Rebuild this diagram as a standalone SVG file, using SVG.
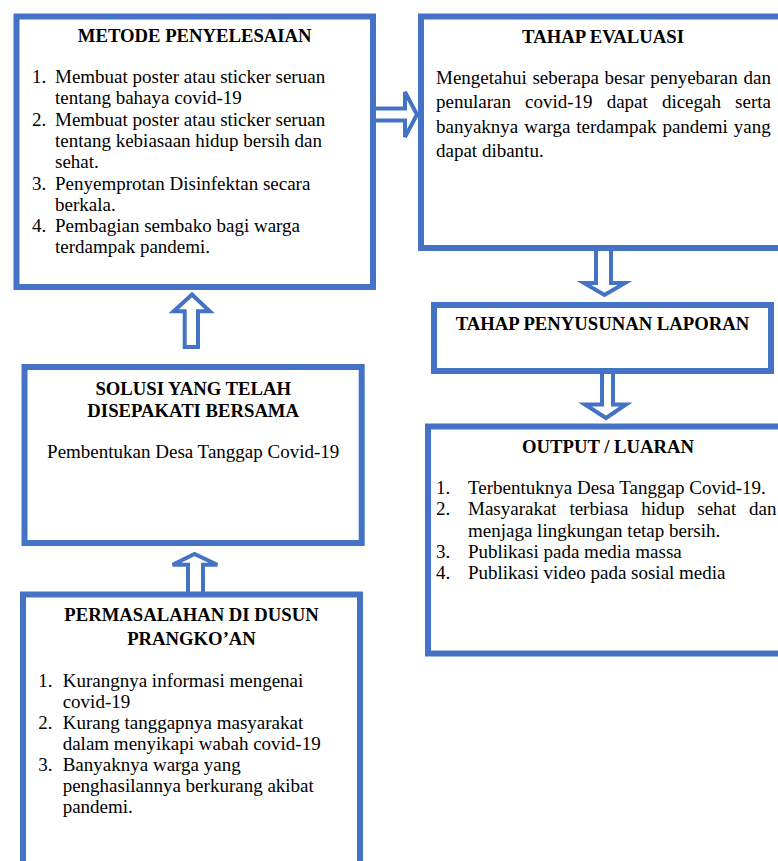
<svg xmlns="http://www.w3.org/2000/svg" width="778" height="861" viewBox="0 0 778 861">
<style>
.box{fill:#fff;stroke:#4472C4;stroke-width:6}
.arr{fill:#fff;stroke:#4472C4;stroke-width:4;stroke-linejoin:miter}
text{font-family:"Liberation Serif","Times New Roman",serif;font-size:19px;fill:#000}
.t{font-weight:bold;text-anchor:middle;font-size:18.7px}
.c{text-anchor:middle}
</style>
<rect width="778" height="861" fill="#fff"/>
<g id="connectors">
<path class="arr" d="M372,108.5 L405,108.5 L405,92 L417,114.5 L405,137 L405,120.5 L372,120.5 Z"/>
<path class="arr" d="M596,249 L596,283 L584,283 L604.5,295 L625,283 L611,283 L611,249 Z"/>
<path class="arr" d="M602,372 L602,404.5 L585,404.5 L606,418 L626,404.5 L613,404.5 L613,372 Z"/>
<path class="arr" d="M184.7,347 L184.7,311.3 L173.7,311.3 L192,294.5 L209.7,311.3 L198,311.3 L198,347 Z"/>
<path class="arr" d="M188,596 L188,564.7 L172.7,564.7 L194.5,554 L217.3,564.7 L203,564.7 L203,596 Z"/>
</g>
<g id="metode">
<rect class="box" x="16.5" y="16.5" width="356.5" height="270.5"/>
<text class="t" x="194.7" y="42">METODE PENYELESAIAN</text>
<text x="32" y="83">1.</text><text x="55" y="83">Membuat poster atau sticker seruan</text>
<text x="55" y="104.3">tentang bahaya covid-19</text>
<text x="32" y="125.6">2.</text><text x="55" y="125.6">Membuat poster atau sticker seruan</text>
<text x="55" y="146.9">tentang kebiasaan hidup bersih dan</text>
<text x="55" y="168.2">sehat.</text>
<text x="32" y="189.5">3.</text><text x="55" y="189.5">Penyemprotan Disinfektan secara</text>
<text x="55" y="210.8">berkala.</text>
<text x="32" y="232.1">4.</text><text x="55" y="232.1">Pembagian sembako bagi warga</text>
<text x="55" y="253.4">terdampak pandemi.</text>
</g>
<g id="evaluasi">
<rect class="box" x="421" y="16.5" width="400" height="231.5"/>
<text class="t" x="603" y="43">TAHAP EVALUASI</text>
<text x="436" y="84" word-spacing="0.9">Mengetahui seberapa besar penyebaran dan</text>
<text x="436" y="108.3" word-spacing="9.35">penularan covid-19 dapat dicegah serta</text>
<text x="436" y="132.6" word-spacing="1.2">banyaknya warga terdampak pandemi yang</text>
<text x="436" y="157">dapat dibantu.</text>
</g>
<g id="laporan">
<rect class="box" x="434" y="305" width="337" height="66"/>
<text class="t" x="602.5" y="330">TAHAP PENYUSUNAN LAPORAN</text>
</g>
<g id="output">
<rect class="box" x="428" y="426.5" width="400" height="227"/>
<text class="t" x="608" y="453">OUTPUT / LUARAN</text>
<text x="436" y="494">1.</text><text x="468" y="494">Terbentuknya Desa Tanggap Covid-19.</text>
<text x="436" y="515.3">2.</text><text x="468" y="515.3" word-spacing="8">Masyarakat terbiasa hidup sehat dan</text>
<text x="468" y="536.6">menjaga lingkungan tetap bersih.</text>
<text x="436" y="558">3.</text><text x="468" y="558">Publikasi pada media massa</text>
<text x="436" y="579.3">4.</text><text x="468" y="579.3">Publikasi video pada sosial media</text>
</g>
<g id="solusi">
<rect class="box" x="24.5" y="367" width="337.2" height="176"/>
<text class="t" x="193.2" y="395">SOLUSI YANG TELAH</text>
<text class="t" x="193.2" y="417.3">DISEPAKATI BERSAMA</text>
<text class="c" x="193.2" y="458">Pembentukan Desa Tanggap Covid-19</text>
</g>
<g id="permasalahan">
<rect class="box" x="23" y="594.5" width="337" height="300"/>
<text class="t" x="191.5" y="620.7">PERMASALAHAN DI DUSUN</text>
<text class="t" x="191.5" y="645">PRANGKO’AN</text>
<text x="38.3" y="686.8">1.</text><text x="62.7" y="686.8">Kurangnya informasi mengenai</text>
<text x="62.7" y="707.9">covid-19</text>
<text x="38.3" y="729">2.</text><text x="62.7" y="729">Kurang tanggapnya masyarakat</text>
<text x="62.7" y="750.1">dalam menyikapi wabah covid-19</text>
<text x="38.3" y="771.2">3.</text><text x="62.7" y="771.2">Banyaknya warga yang</text>
<text x="62.7" y="792.3">penghasilannya berkurang akibat</text>
<text x="62.7" y="813.4">pandemi.</text>
</g>
</svg>
